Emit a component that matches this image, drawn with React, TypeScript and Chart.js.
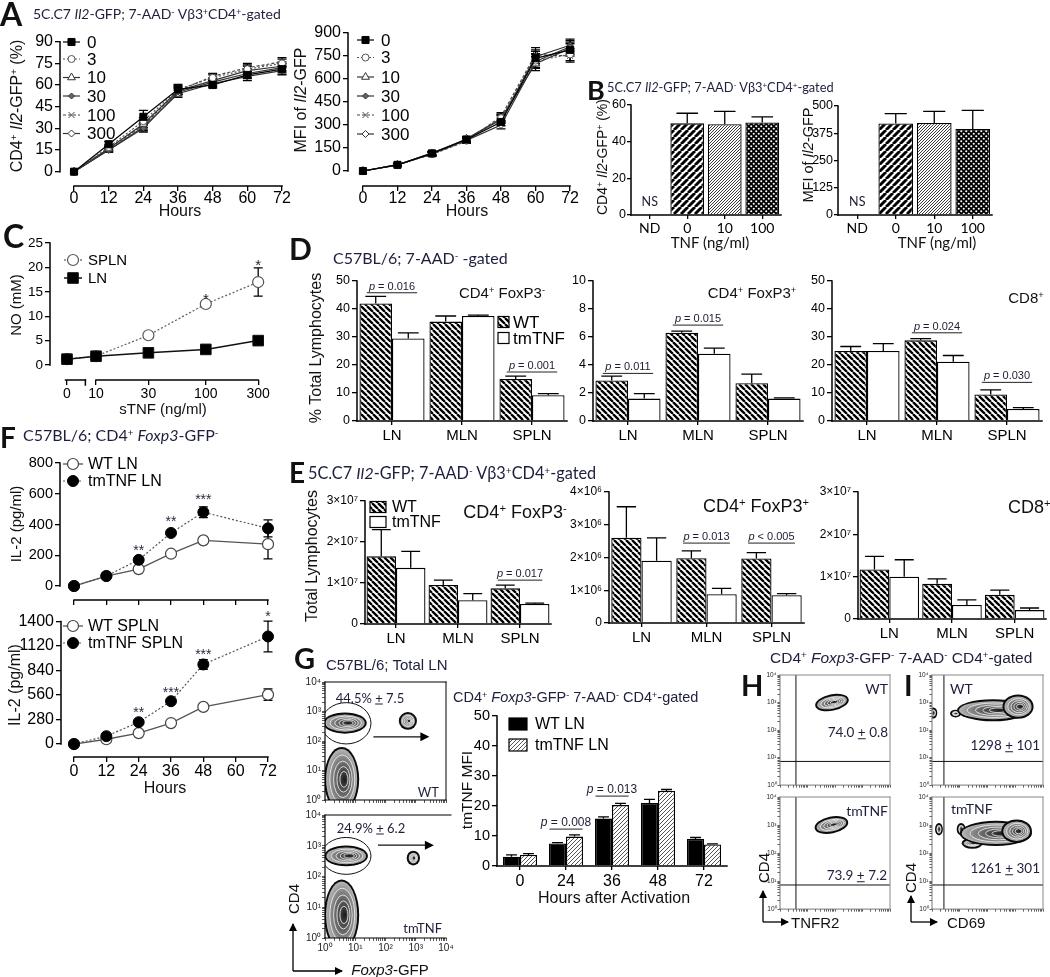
import React, { useEffect, useRef } from 'react';
import { Chart, registerables } from 'chart.js';

Chart.register(...registerables);
const ARIAL = '"Liberation Sans", Arial, Helvetica, sans-serif';
const CALI = 'Lato, "Open Sans", sans-serif';
Chart.defaults.font.family = ARIAL;
Chart.defaults.color = '#000';

/* ====================== DATA ====================== */
// Panel A
const A_HOURS = [0, 12, 24, 36, 48, 60, 72];
const A_HOUR_TICKS = [0, 12, 24, 36, 48, 60, 72];
const A_DOSES = ['0', '3', '10', '30', '100', '300'];
const A_PCT_TICKS = [0, 15, 30, 45, 60, 75, 90];
const A_PCT_0 = [0, 19, 38, 57, 60, 67, 71];
const A_PCT_3 = [0, 17, 35, 57, 65, 71, 75];
const A_PCT_10 = [0, 16, 33, 56, 63, 70, 73];
const A_PCT_30 = [0, 15, 30, 55, 62, 68, 72];
const A_PCT_100 = [0, 16, 32, 56, 66, 72, 76];
const A_PCT_300 = [0, 15, 31, 54, 61, 66, 70];
const A_PCT_ERR_0 = [0, 2, 4.5, 3.5, 2, 2.5, 3.5];
const A_PCT_ERR = [0, 1.5, 2.5, 2.5, 2, 3, 3];
const A_MFI_TICKS = [0, 150, 300, 450, 600, 750, 900];
const A_MFI_0 = [0, 40, 115, 205, 320, 735, 790];
const A_MFI_3 = [0, 42, 110, 198, 345, 720, 760];
const A_MFI_10 = [0, 40, 112, 210, 340, 700, 800];
const A_MFI_30 = [0, 38, 118, 205, 335, 745, 820];
const A_MFI_100 = [0, 42, 108, 195, 355, 760, 750];
const A_MFI_300 = [0, 40, 115, 200, 300, 715, 810];
const A_MFI_ERR = [0, 8, 12, 15, 25, 45, 40];

// Panel B
const B_CATS = ['ND', '0', '10', '100'];
const B_PCT = [null, 50, 49.5, 50.5];
const B_PCT_ERR = [0, 5.5, 7, 3];
const B_PCT_TICKS = [0, 20, 40, 60];
const B_MFI = [null, 420, 422, 395];
const B_MFI_ERR = [0, 45, 53, 85];
const B_MFI_TICKS = [0, 125, 250, 375, 500];

// Panel C
const C_DOSES = [0, 10, 30, 100, 300];
const C_ZERO_POS = 5.44; // where the "0" dose sits on the broken log axis
const C_LN = [1.2, 1.8, 2.5, 3.2, 5.0];
const C_LN_ERR = [0.2, 0.2, 0.3, 0.3, 0.5];
const C_SPLN = [1.2, 1.8, 6.1, 12.5, 17.0];
const C_SPLN_ERR = [0.2, 0.2, 0.3, 0.6, 2.9];
const C_Y_TICKS = [0, 5, 10, 15, 20, 25];
const C_STARS = [{ x: 100, y: 13.9, t: '*' }, { x: 300, y: 20.9, t: '*' }];

// Panel D
const D_CATS = ['LN', 'MLN', 'SPLN'];
const D1_WT = [42, 35.5, 15];
const D1_WT_ERR = [2.5, 2, 1];
const D1_TM = [29.5, 37.5, 9.2];
const D1_TM_ERR = [2, 0.3, 0.6];
const D2_WT = [2.9, 6.3, 2.7];
const D2_WT_ERR = [0.3, 0.12, 0.65];
const D2_TM = [1.6, 4.8, 1.6];
const D2_TM_ERR = [0.35, 0.4, 0.05];
const D3_WT = [25, 28.8, 9.5];
const D3_WT_ERR = [1.6, 0.6, 1.6];
const D3_TM = [25, 21.2, 4.3];
const D3_TM_ERR = [2.6, 2.2, 0.5];
const D_TICKS_50 = [0, 10, 20, 30, 40, 50];
const D_TICKS_10 = [0, 2, 4, 6, 8, 10];
const D1_P = [{ i: 0, y: 45.8, t: '0.016' }, { i: 2, y: 17.5, t: '0.001' }];
const D2_P = [{ i: 0, y: 3.4, t: '0.011' }, { i: 1, y: 6.85, t: '0.015' }];
const D3_P = [{ i: 1, y: 31.5, t: '0.024' }, { i: 2, y: 13.8, t: '0.030' }];

// Panel E
const E1_WT = [1.65e7, 0.95e7, 0.87e7];
const E1_WT_ERR = [0.65e7, 0.12e7, 0.08e7];
const E1_TM = [1.37e7, 0.58e7, 0.49e7];
const E1_TM_ERR = [0.4e7, 0.16e7, 0.02e7];
const E2_WT = [2.6e6, 1.98e6, 1.97e6];
const E2_WT_ERR = [0.95e6, 0.22e6, 0.18e6];
const E2_TM = [1.9e6, 0.88e6, 0.85e6];
const E2_TM_ERR = [0.7e6, 0.18e6, 0.05e6];
const E3_WT = [1.17e7, 0.83e7, 0.57e7];
const E3_WT_ERR = [0.31e7, 0.12e7, 0.11e7];
const E3_TM = [1.0e7, 0.33e7, 0.21e7];
const E3_TM_ERR = [0.4e7, 0.12e7, 0.05e7];
const E_TICKS_3E7 = [0, 1e7, 2e7, 3e7];
const E_TICKS_4E6 = [0, 1e6, 2e6, 3e6, 4e6];
const E1_P = [{ i: 2, y: 1.07e7, t: '0.017' }];
const E2_P = [{ i: 1, y: 2.44e6, t: '0.013' }, { i: 2, y: 2.44e6, t: '0.005', op: '<' }];

// Panel F
const F_HOURS = [0, 12, 24, 36, 48, 72];
const F_HOUR_TICKS = [0, 12, 24, 36, 48, 60, 72];
const F_LN_WT = [0, 65, 110, 210, 297, 272];
const F_LN_WT_ERR = [0, 6, 8, 10, 10, 95];
const F_LN_TM = [0, 65, 170, 345, 480, 375];
const F_LN_TM_ERR = [0, 8, 12, 12, 35, 55];
const F_SP_WT = [0, 55, 125, 240, 425, 565];
const F_SP_WT_ERR = [0, 6, 8, 10, 15, 65];
const F_SP_TM = [0, 90, 250, 490, 910, 1230];
const F_SP_TM_ERR = [0, 10, 15, 20, 55, 175];
const F_LN_TICKS = [0, 200, 400, 600, 800];
const F_SP_TICKS = [0, 280, 560, 840, 1120, 1400];
const F_LN_STARS = [{ x: 24, y: 247, t: '**' }, { x: 36, y: 435, t: '**' }, { x: 48, y: 578, t: '***' }];
const F_SP_STARS = [{ x: 24, y: 387, t: '**' }, { x: 36, y: 615, t: '***' }, { x: 48, y: 1047, t: '***' }, { x: 72, y: 1480, t: '*' }];

// Panel G (bars)
const G_CATS = ['0', '24', '36', '48', '72'];
const G_WT = [3.1, 7.5, 15.8, 21, 9];
const G_WT_ERR = [0.6, 0.3, 0.6, 1.2, 0.5];
const G_TM = [3.7, 9.8, 20.3, 25, 7.2];
const G_TM_ERR = [0.4, 0.6, 0.6, 0.5, 0.2];
const G_TICKS = [0, 10, 20, 30, 40, 50];
const G_P = [{ i: 1, y: 12.3, t: '0.008' }, { i: 2, y: 23.3, t: '0.013' }];

// Flow plots (populations in log10 decades)
const FLOW_TICKS = [1, 2, 3, 4, 5, 6, 7, 8, 9, 10, 20, 30, 40, 50, 60, 70, 80, 90, 100, 200, 300, 400, 500, 600, 700, 800, 900, 1000, 2000, 3000, 4000, 5000, 6000, 7000, 8000, 9000, 10000];
const G_WT_POPS = [
  { lx: 0.55, ly: 0.7, rx: 0.58, ry: 1.1 },
  { lx: 0.66, ly: 2.61, rx: 0.72, ry: 0.36 },
  { lx: 2.74, ly: 2.68, rx: 0.3, ry: 0.3 },
];
const G_WT_GATE = [{ lx: 0.7, ly: 2.6, rx: 0.82, ry: 0.7 }];
const G_WT_ARROW = [{ x1: 1.6, y1: 2.14, x2: 3.45, y2: 2.14 }];
const G_TM_POPS = [
  { lx: 0.55, ly: 0.75, rx: 0.58, ry: 1.15 },
  { lx: 0.7, ly: 2.67, rx: 0.72, ry: 0.34 },
  { lx: 2.92, ly: 2.6, rx: 0.22, ry: 0.24 },
];
const G_TM_GATE = [{ lx: 0.7, ly: 2.67, rx: 0.82, ry: 0.6 }];
const G_TM_ARROW = [{ x1: 1.75, y1: 3.02, x2: 3.6, y2: 3.02 }];
const H_WT_POPS = [{ lx: 1.89, ly: 3.0, rx: 0.62, ry: 0.3, rot: -0.2 }];
const H_TM_POPS = [{ lx: 1.87, ly: 3.0, rx: 0.62, ry: 0.3, rot: -0.2 }];
const H_GATE = { vx: 0.58, hy: 0.86 };
const I_WT_POPS = [
  { lx: 0.05, ly: 2.62, rx: 0.14, ry: 0.2 },
  { lx: 0.85, ly: 2.6, rx: 0.2, ry: 0.14 },
  { lx: 2.2, ly: 2.72, rx: 1.3, ry: 0.4 },
  { lx: 3.1, ly: 2.85, rx: 0.56, ry: 0.44 },
];
const I_TM_POPS = [
  { lx: 0.25, ly: 2.85, rx: 0.14, ry: 0.22 },
  { lx: 1.05, ly: 2.85, rx: 0.16, ry: 0.22 },
  { lx: 1.45, ly: 2.35, rx: 0.38, ry: 0.2 },
  { lx: 2.3, ly: 2.7, rx: 1.3, ry: 0.45 },
  { lx: 3.05, ly: 2.78, rx: 0.55, ry: 0.42 },
];
const I_GATE = { vx: 0.43, hy: 0.86 };

/* ====================== HELPERS ====================== */
const SUPS = ['⁰', '¹', '²', '³', '⁴', '⁵', '⁶', '⁷'];

function mkPat(kind: string): any {
  const s = kind === 'bold' ? 7 : kind === 'wt' ? 6 : kind === 'fine' ? 3 : kind === 'check' ? 5 : 4;
  const c = document.createElement('canvas');
  c.width = s; c.height = s;
  const g = c.getContext('2d')!;
  if (kind === 'check') {
    g.fillStyle = '#000'; g.fillRect(0, 0, s, s);
    g.fillStyle = '#fff';
    g.beginPath(); g.arc(1.25, 1.25, 1.05, 0, Math.PI * 2); g.fill();
    g.beginPath(); g.arc(3.75, 3.75, 1.05, 0, Math.PI * 2); g.fill();
    return g.createPattern(c, 'repeat');
  }
  g.fillStyle = '#fff'; g.fillRect(0, 0, s, s);
  const lw: any = { wt: 2.3, bold: 2.9, fine: 0.9, gray: 1.0 };
  g.strokeStyle = kind === 'fine' ? '#222' : kind === 'gray' ? '#555' : '#000';
  g.lineWidth = lw[kind];
  g.beginPath();
  for (let k = -1; k <= 1; k++) {
    if (kind === 'wt') { g.moveTo(k * s, 0); g.lineTo(k * s + s, s); }
    else { g.moveTo(k * s, s); g.lineTo(k * s + s, 0); }
  }
  g.stroke();
  return g.createPattern(c, 'repeat');
}

function marker(ctx: any, style: string, x: number, y: number, r: number, bg: any, bc: any, bw: number) {
  ctx.save();
  ctx.fillStyle = bg; ctx.strokeStyle = bc; ctx.lineWidth = bw; ctx.setLineDash([]);
  ctx.beginPath();
  if (style === 'rect') { const s = r * Math.SQRT1_2; ctx.rect(x - s, y - s, 2 * s, 2 * s); }
  else if (style === 'rectRot') { ctx.moveTo(x, y - r); ctx.lineTo(x + r, y); ctx.lineTo(x, y + r); ctx.lineTo(x - r, y); ctx.closePath(); }
  else if (style === 'triangle') { ctx.moveTo(x, y - r); ctx.lineTo(x + r * 0.866, y + r * 0.5); ctx.lineTo(x - r * 0.866, y + r * 0.5); ctx.closePath(); }
  else if (style === 'crossRot') {
    const s = r * 0.75;
    ctx.moveTo(x - s, y - s); ctx.lineTo(x + s, y + s); ctx.moveTo(x + s, y - s); ctx.lineTo(x - s, y + s);
    ctx.stroke(); ctx.restore(); return;
  } else ctx.arc(x, y, r, 0, Math.PI * 2);
  ctx.fill();
  if (bw > 0) ctx.stroke();
  ctx.restore();
}

function drawErr(chart: any) {
  const ctx = chart.ctx, ys = chart.scales.y;
  chart.data.datasets.forEach((ds: any, di: number) => {
    if (!ds.errUp) return;
    const meta = chart.getDatasetMeta(di);
    ctx.save(); ctx.strokeStyle = ds.errColor || '#000'; ctx.lineWidth = 1.3; ctx.setLineDash([]);
    meta.data.forEach((el: any, i: number) => {
      const raw = ds.data[i];
      const v = raw !== null && typeof raw === 'object' ? raw.y : raw;
      const e = ds.errUp[i];
      if (v == null || !e) return;
      const x = el.x;
      const top = ys.getPixelForValue(v + e);
      const bot = ds.errBoth ? ys.getPixelForValue(v - e) : el.y;
      const cap = meta.type === 'bar' ? el.width * 0.32 : 4.5;
      ctx.beginPath();
      ctx.moveTo(x, top); ctx.lineTo(x, bot);
      ctx.moveTo(x - cap, top); ctx.lineTo(x + cap, top);
      if (ds.errBoth) { ctx.moveTo(x - cap, bot); ctx.lineTo(x + cap, bot); }
      ctx.stroke();
    });
    ctx.restore();
  });
}

function drawAxes(chart: any, ax: any) {
  const { ctx, chartArea: ca } = chart;
  const xs = chart.scales.x, ys = chart.scales.y;
  ctx.save();
  ctx.strokeStyle = ax.color || '#000'; ctx.lineWidth = ax.lw || 1.5; ctx.lineCap = 'square'; ctx.setLineDash([]);
  const L = (a: number, b: number, c: number, d: number) => { ctx.beginPath(); ctx.moveTo(a, b); ctx.lineTo(c, d); ctx.stroke(); };
  const ya = ax.y ? ys.getPixelForValue(ax.y[0]) : ca.bottom;
  const yb = ax.y ? ys.getPixelForValue(ax.y[1]) : ca.top;
  L(ca.left, ya, ca.left, yb);
  const segs = ax.x || [null];
  for (const s of segs) {
    const a = s ? xs.getPixelForValue(s[0]) : ca.left;
    const b = s ? xs.getPixelForValue(s[1]) : ca.right;
    L(a, ca.bottom, b, ca.bottom);
  }
  for (const v of ax.xTicks || []) { const p = xs.getPixelForValue(v); L(p, ca.bottom, p, ca.bottom + 5); }
  if (ax.frame) {
    ctx.strokeStyle = ax.frameColor || '#000'; ctx.lineWidth = ax.frameLw || 1;
    L(ca.left, ca.top, ca.right + (ax.topExt || 0), ca.top);
    if (ax.frame === 'box') L(ca.right, ca.top, ca.right, ca.bottom);
  }
  ctx.restore();
}

function drawP(chart: any, p: any, size: number) {
  const ctx = chart.ctx, xs = chart.scales.x, ys = chart.scales.y;
  const n = xs.getLabels().length;
  const band = (xs.right - xs.left) / n;
  const cx = xs.getPixelForValue(p.i), py = ys.getPixelForValue(p.y);
  const half = band * 0.36;
  ctx.save();
  ctx.strokeStyle = '#222'; ctx.lineWidth = 1; ctx.setLineDash([]);
  ctx.beginPath(); ctx.moveTo(cx - half, py); ctx.lineTo(cx + half, py); ctx.stroke();
  ctx.fillStyle = '#1c1c30'; ctx.textBaseline = 'alphabetic'; ctx.textAlign = 'left';
  const itF = `italic ${size}px ${ARIAL}`, rF = `${size}px ${ARIAL}`;
  ctx.font = itF; const w1 = ctx.measureText('p').width;
  const rest = ' ' + (p.op || '=') + ' ' + p.t;
  ctx.font = rF; const w2 = ctx.measureText(rest).width;
  const x0 = cx - (w1 + w2) / 2;
  ctx.font = itF; ctx.fillText('p', x0, py - 3);
  ctx.font = rF; ctx.fillText(rest, x0 + w1, py - 3);
  ctx.restore();
}

function blob(ctx: any, cx: number, cy: number, rx: number, ry: number, rot: number) {
  ctx.save(); ctx.translate(cx, cy); ctx.rotate(rot);
  ctx.fillStyle = '#0b0b0b';
  ctx.beginPath(); ctx.ellipse(0, 0, rx, ry, 0, 0, Math.PI * 2); ctx.fill();
  const ix = Math.max(rx - 2, rx * 0.6), iy = Math.max(ry - 2, ry * 0.6);
  ctx.save(); ctx.scale(ix, iy);
  const g = ctx.createRadialGradient(0.2, 0, 0, 0, 0, 1);
  g.addColorStop(0, '#1a1a1a'); g.addColorStop(0.3, '#4a4a4a'); g.addColorStop(0.75, '#8c8c8c'); g.addColorStop(1, '#b8b8b8');
  ctx.fillStyle = g; ctx.beginPath(); ctx.arc(0, 0, 1, 0, Math.PI * 2); ctx.fill();
  ctx.restore();
  ctx.strokeStyle = 'rgba(245,245,245,0.9)'; ctx.lineWidth = 0.9;
  for (const k of [0.8, 0.6, 0.42, 0.26]) {
    if (ix * k < 1.6 || iy * k < 1.3) continue;
    ctx.beginPath(); ctx.ellipse(0.2 * ix * (1 - k), 0, ix * k, iy * k, 0, 0, Math.PI * 2); ctx.stroke();
  }
  ctx.restore();
}

function drawFlow(chart: any, f: any) {
  const { ctx, chartArea: ca } = chart;
  const xs = chart.scales.x, ys = chart.scales.y;
  const X = (l: number) => xs.getPixelForValue(Math.pow(10, l));
  const Y = (l: number) => ys.getPixelForValue(Math.pow(10, l));
  ctx.save();
  ctx.beginPath(); ctx.rect(ca.left, ca.top, ca.right - ca.left, ca.bottom - ca.top); ctx.clip();
  for (const p of f.pops || []) {
    const cx = X(p.lx), cy = Y(p.ly);
    blob(ctx, cx, cy, Math.abs(X(p.lx + p.rx) - cx), Math.abs(Y(p.ly + p.ry) - cy), p.rot || 0);
  }
  ctx.strokeStyle = '#111'; ctx.lineWidth = 1;
  for (const g of f.gates || []) {
    const cx = X(g.lx), cy = Y(g.ly);
    ctx.beginPath(); ctx.ellipse(cx, cy, Math.abs(X(g.lx + g.rx) - cx), Math.abs(Y(g.ly + g.ry) - cy), 0, 0, Math.PI * 2); ctx.stroke();
  }
  if (f.quad) {
    const vx = X(f.quad.vx), hy = Y(f.quad.hy);
    ctx.beginPath(); ctx.moveTo(vx, ca.top); ctx.lineTo(vx, ca.bottom); ctx.moveTo(ca.left, hy); ctx.lineTo(ca.right, hy); ctx.stroke();
  }
  for (const a of f.arrows || []) {
    const x1 = X(a.x1), y1 = Y(a.y1), x2 = X(a.x2), y2 = Y(a.y2);
    ctx.lineWidth = 1.2;
    ctx.beginPath(); ctx.moveTo(x1, y1); ctx.lineTo(x2 - 6, y2); ctx.stroke();
    ctx.fillStyle = '#000';
    ctx.beginPath(); ctx.moveTo(x2, y2); ctx.lineTo(x2 - 9, y2 - 4.5); ctx.lineTo(x2 - 9, y2 + 4.5); ctx.closePath(); ctx.fill();
  }
  ctx.restore();
}

function drawNotes(chart: any, spec: any) {
  const ctx = chart.ctx, xs = chart.scales.x, ys = chart.scales.y;
  for (const t of spec.texts || []) {
    ctx.save();
    ctx.font = t.font; ctx.fillStyle = t.color || '#1c1c30'; ctx.textAlign = 'center'; ctx.textBaseline = 'middle';
    ctx.fillText(t.t, xs.getPixelForValue(t.x) + (t.dx || 0), ys.getPixelForValue(t.y) + (t.dy || 0));
    ctx.restore();
  }
  for (const p of spec.pvals || []) drawP(chart, p, spec.pSize || 11);
}

function drawLegend(chart: any, spec: any) {
  if (!spec.legend) return;
  const ctx = chart.ctx;
  for (const it of spec.legend) {
    const x = it.x - spec.box.x, y = it.y - spec.box.y;
    const ds = chart.data.datasets[it.ds];
    ctx.save();
    if (it.kind === 'line') {
      ctx.strokeStyle = ds.borderColor; ctx.lineWidth = ds.borderWidth; ctx.setLineDash(ds.borderDash || []);
      ctx.beginPath(); ctx.moveTo(x, y); ctx.lineTo(x + it.len, y); ctx.stroke();
      marker(ctx, ds.pointStyle, x + it.len / 2, y, ds.pointRadius, ds.pointBackgroundColor, ds.pointBorderColor, ds.pointBorderWidth);
    } else {
      ctx.fillStyle = Array.isArray(ds.backgroundColor) ? ds.backgroundColor[1] : ds.backgroundColor;
      ctx.fillRect(x, y - it.h / 2, it.w, it.h);
      ctx.strokeStyle = '#000'; ctx.lineWidth = 1.2; ctx.strokeRect(x, y - it.h / 2, it.w, it.h);
    }
    ctx.fillStyle = '#000'; ctx.font = spec.legendFont; ctx.textAlign = 'left'; ctx.textBaseline = 'middle';
    ctx.fillText(it.label ?? ds.label, x + it.tx, y + 1);
    ctx.restore();
  }
}

let PID = 0;
function decor(spec: any) {
  return {
    id: 'decor' + PID++,
    beforeDatasetsDraw(chart: any) { if (spec.errFirst) drawErr(chart); },
    afterDatasetsDraw(chart: any) {
      if (spec.flow) drawFlow(chart, spec.flow);
      if (!spec.errFirst) drawErr(chart);
      drawAxes(chart, spec.axes || {});
      drawNotes(chart, spec);
      drawLegend(chart, spec);
    },
  };
}

function linAx(min: number, max: number, ticks: number[], fs: number, o: any = {}) {
  return {
    type: o.type || 'linear', min, max,
    border: { display: false },
    grid: { display: true, drawOnChartArea: false, drawTicks: true, tickLength: o.tl ?? 5, color: o.gc || '#000', lineWidth: o.glw ?? 1.3 },
    ticks: {
      display: o.show !== false, font: { size: fs, family: o.ff || ARIAL }, color: '#000', padding: o.pad ?? 2,
      autoSkip: false, maxRotation: 0, callback: o.cb || ((v: any) => String(v)),
    },
    afterBuildTicks: (s: any) => { s.ticks = ticks.map((v) => ({ value: v })); },
  };
}
function catAx(fs: number, o: any = {}) {
  return {
    type: 'category', offset: true, border: { display: false },
    grid: { display: true, drawOnChartArea: false, drawTicks: true, tickLength: o.tl ?? 4, color: '#000', lineWidth: 1.3, offset: false },
    ticks: { font: { size: fs, family: o.ff || ARIAL }, color: '#000', padding: o.pad ?? 2, autoSkip: false, maxRotation: 0 },
  };
}
function flowLabel(v: any) {
  const l = Math.log10(v);
  return Math.abs(l - Math.round(l)) < 1e-9 ? '10' + SUPS[Math.round(l)] : '';
}
function logAx(show: boolean, fs: number, tl: number) {
  return {
    type: 'logarithmic', min: 1, max: 10000, border: { display: false },
    grid: { display: true, drawOnChartArea: false, drawTicks: true, tickLength: tl, color: '#333', lineWidth: 0.8 },
    ticks: { display: show, font: { size: fs, family: ARIAL }, color: '#222', padding: 1, autoSkip: false, maxRotation: 0, callback: flowLabel },
    afterBuildTicks: (s: any) => { s.ticks = FLOW_TICKS.map((v) => ({ value: v })); },
  };
}

function lineDS(label: string, xs: number[], ys: number[], err: number[], st: any) {
  return {
    label, data: xs.map((x, i) => ({ x, y: ys[i] })), showLine: true, tension: 0, clip: false,
    borderColor: st.c, borderWidth: st.lw ?? 1.2, borderDash: st.dash || [],
    pointStyle: st.ps, pointRadius: st.r, pointBackgroundColor: st.bg, pointBorderColor: st.pc ?? st.c, pointBorderWidth: st.pbw ?? 1,
    errUp: err, errBoth: true,
  };
}
function barDS(label: string, data: any[], err: number[], bg: any, cp: number) {
  return { label, data, errUp: err, backgroundColor: bg, borderColor: '#000', borderWidth: 1.3, categoryPercentage: cp, barPercentage: 1 };
}

function fitLayout(cfg: any, box: any, area: any) {
  const o = cfg.options;
  o.responsive = false; o.animation = false; o.devicePixelRatio = 1; o.events = [];
  o.layout = { padding: { left: 0, top: area.t - box.y, right: box.x + box.w - area.r, bottom: 0 } };
  o.scales.x.afterFit = (s: any) => { s.height = box.y + box.h - area.b; };
  o.scales.y.afterFit = (s: any) => { s.width = area.l - box.x; };
  o.plugins = { legend: { display: false }, tooltip: { enabled: false }, title: { display: false } };
  return cfg;
}

const A_STYLES = [
  { c: '#000', ps: 'rect', r: 5, bg: '#000' },
  { c: '#555', dash: [2, 2], ps: 'circle', r: 3.5, bg: '#fff' },
  { c: '#333', ps: 'triangle', r: 4.5, bg: '#fff' },
  { c: '#333', ps: 'rectRot', r: 3, bg: '#666' },
  { c: '#444', dash: [3, 2], ps: 'crossRot', r: 4, bg: '#fff' },
  { c: '#333', ps: 'rectRot', r: 3.5, bg: '#fff' },
];

/* ====================== CHART SPECS ====================== */
function buildA(which: 'pct' | 'mfi') {
  const series = which === 'pct' ? [A_PCT_0, A_PCT_3, A_PCT_10, A_PCT_30, A_PCT_100, A_PCT_300] : [A_MFI_0, A_MFI_3, A_MFI_10, A_MFI_30, A_MFI_100, A_MFI_300];
  const errs = which === 'pct' ? [A_PCT_ERR_0, A_PCT_ERR, A_PCT_ERR, A_PCT_ERR, A_PCT_ERR, A_PCT_ERR] : [A_MFI_ERR, A_MFI_ERR, A_MFI_ERR, A_MFI_ERR, A_MFI_ERR, A_MFI_ERR];
  const box = which === 'pct' ? { x: 0, y: 25, w: 295, h: 195 } : { x: 280, y: 20, w: 305, h: 200 };
  const lx = which === 'pct' ? 63 : 357;
  const rows = which === 'pct' ? [42, 59, 77.5, 96, 115, 133.5] : [40, 57.5, 77, 96, 115, 134];
  return {
    type: 'scatter',
    data: { datasets: series.map((s, i) => lineDS(A_DOSES[i], A_HOURS, s, errs[i], A_STYLES[i])) },
    options: {
      scales: {
        x: linAx(which === 'pct' ? -4.85 : -5.2, 74, A_HOUR_TICKS, 16, { pad: -2 }),
        y: which === 'pct' ? linAx(-9.9, 90, A_PCT_TICKS, 16) : linAx(-97.8, 900, A_MFI_TICKS, 16),
      },
    },
    plugins: [decor({
      box, errFirst: true,
      axes: { x: [[0, 72]], y: which === 'pct' ? [0, 90] : [0, 900] },
      legendFont: `17px ${ARIAL}`,
      legend: A_DOSES.map((d, i) => ({ kind: 'line', ds: i, x: lx, y: rows[i], len: 17, tx: 24, label: d })),
    })],
  };
}

function buildB(which: 'pct' | 'mfi') {
  const box = which === 'pct' ? { x: 590, y: 95, w: 200, h: 155 } : { x: 795, y: 95, w: 205, h: 155 };
  const bg = ['#fff', mkPat('bold'), mkPat('fine'), mkPat('check')];
  return {
    type: 'bar',
    data: { labels: B_CATS, datasets: [barDS('TNF', which === 'pct' ? B_PCT : B_MFI, which === 'pct' ? B_PCT_ERR : B_MFI_ERR, bg, 0.9)] },
    options: {
      scales: {
        x: catAx(14, { ff: CALI, pad: 1 }),
        y: which === 'pct' ? linAx(0, 60, B_PCT_TICKS, 12.5, { tl: 4, pad: 1 }) : linAx(0, 500, B_MFI_TICKS, 12.5, { tl: 4, pad: 1 }),
      },
    },
    plugins: [decor({
      box, axes: {},
      texts: [{ x: 0, y: which === 'pct' ? 7 : 60, t: 'NS', font: `12.5px ${CALI}` }],
    })],
  };
}

function buildC() {
  const pos = (d: number) => (d === 0 ? C_ZERO_POS : d);
  const box = { x: 0, y: 230, w: 275, h: 175 };
  const ln = lineDS('LN', C_DOSES.map(pos), C_LN, C_LN_ERR, { c: '#111', lw: 1.5, ps: 'rect', r: 7.5, bg: '#000' });
  const sp = lineDS('SPLN', C_DOSES.map(pos), C_SPLN, C_SPLN_ERR, { c: '#666', lw: 1.3, dash: [2, 2], ps: 'circle', r: 5.5, bg: '#fff', pc: '#555', pbw: 1.2 });
  return {
    type: 'scatter',
    data: { datasets: [ln, sp] },
    options: {
      scales: {
        x: linAx(3.81, 325, C_DOSES.map(pos), 14, { type: 'logarithmic', pad: 1, cb: (v: any) => String(v === C_ZERO_POS ? 0 : v) }),
        y: linAx(-3.07, 25, C_Y_TICKS, 13.5),
      },
    },
    plugins: [decor({
      box, errFirst: true,
      axes: { x: [[C_ZERO_POS * 0.97, 8.0], [10, 300]], xTicks: [8.0], y: [0, 25] },
      texts: C_STARS.map((s) => ({ ...s, font: `15px ${ARIAL}`, dy: 3 })),
      legendFont: `15px ${ARIAL}`,
      legend: [
        { kind: 'line', ds: 1, x: 64, y: 260, len: 18, tx: 24 },
        { kind: 'line', ds: 0, x: 64, y: 278, len: 18, tx: 24 },
      ],
    })],
  };
}

function buildBars(box: any, cats: string[], wt: number[], wtE: number[], tm: number[], tmE: number[], y: any, cp: number, fsX: number, extra: any) {
  return {
    type: 'bar',
    data: { labels: cats, datasets: [barDS('WT', wt, wtE, extra.wtBg || mkPat('wt'), cp), barDS(extra.tmLabel || 'tmTNF', tm, tmE, extra.tmBg || '#fff', cp)] },
    options: { scales: { x: catAx(fsX), y } },
    plugins: [decor({ box, axes: {}, ...extra.decor })],
  };
}

function buildF(which: 'ln' | 'sp') {
  const ln = which === 'ln';
  const box = ln ? { x: 0, y: 450, w: 285, h: 162 } : { x: 0, y: 610, w: 285, h: 170 };
  const tm = lineDS(ln ? 'tmTNF LN' : 'tmTNF SPLN', F_HOURS, ln ? F_LN_TM : F_SP_TM, ln ? F_LN_TM_ERR : F_SP_TM_ERR, { c: '#555', lw: 1.2, dash: [2, 2], ps: 'circle', r: 5.5, bg: '#000', pc: '#000' });
  const wt = lineDS(ln ? 'WT LN' : 'WT SPLN', F_HOURS, ln ? F_LN_WT : F_SP_WT, ln ? F_LN_WT_ERR : F_SP_WT_ERR, { c: '#555', lw: 1.3, ps: 'circle', r: 5.5, bg: '#fff', pc: '#444', pbw: 1.2 });
  const ly = ln ? [464, 481] : [626, 643];
  return {
    type: 'scatter',
    data: { datasets: [tm, wt] },
    options: {
      scales: {
        x: linAx(ln ? -5.2 : -4.83, 74, F_HOUR_TICKS, 16, { show: !ln, pad: 0 }),
        y: ln ? linAx(-91, 800, F_LN_TICKS, 14.5) : linAx(-148, 1400, F_SP_TICKS, 16),
      },
    },
    plugins: [decor({
      box, errFirst: true,
      axes: { x: [[0, 72]], y: ln ? [0, 800] : [0, 1400] },
      texts: (ln ? F_LN_STARS : F_SP_STARS).map((s) => ({ ...s, font: `14px ${ARIAL}`, dy: 3, color: '#2a2a40' })),
      legendFont: `16px ${ARIAL}`,
      legend: [
        { kind: 'line', ds: 1, x: 63, y: ly[0], len: 20, tx: 25 },
        { kind: 'line', ds: 0, x: 63, y: ly[1], len: 20, tx: 25 },
      ],
    })],
  };
}

function buildFlow(box: any, showX: boolean, fs: number, tl: number, flow: any, axes: any) {
  return {
    type: 'scatter',
    data: { datasets: [{ data: [] }] },
    options: { scales: { x: logAx(showX, fs, tl), y: logAx(true, fs, tl) } },
    plugins: [decor({ box, flow, axes })],
  };
}

const e7 = (v: any) => (v === 0 ? '0' : `${v / 1e7}×10⁷`);
const e6 = (v: any) => (v === 0 ? '0' : `${v / 1e6}×10⁶`);

const CHARTS: any[] = [
  { box: { x: 0, y: 25, w: 295, h: 195 }, area: { l: 60, t: 41.7, r: 287.8, b: 186 }, build: () => buildA('pct') },
  { box: { x: 280, y: 20, w: 305, h: 200 }, area: { l: 348, t: 33, r: 575.8, b: 186 }, build: () => buildA('mfi') },
  { box: { x: 590, y: 95, w: 200, h: 155 }, area: { l: 631, t: 105, r: 781, b: 215 }, build: () => buildB('pct') },
  { box: { x: 795, y: 95, w: 205, h: 155 }, area: { l: 838, t: 106, r: 992, b: 215 }, build: () => buildB('mfi') },
  { box: { x: 0, y: 230, w: 275, h: 175 }, area: { l: 50, t: 243, r: 262, b: 380 }, build: buildC },
  {
    box: { x: 325, y: 270, w: 245, h: 180 }, area: { l: 357, t: 281, r: 567, b: 421 },
    build: () => buildBars({ x: 325, y: 270, w: 245, h: 180 }, D_CATS, D1_WT, D1_WT_ERR, D1_TM, D1_TM_ERR, linAx(0, 50, D_TICKS_50, 12.5), 0.93, 15, {
      decor: {
        pvals: D1_P, pSize: 11, legendFont: `17px ${ARIAL}`,
        legend: [{ kind: 'sw', ds: 0, x: 498, y: 322, w: 11, h: 11, tx: 15 }, { kind: 'sw', ds: 1, x: 498, y: 338, w: 11, h: 11, tx: 15 }],
      },
    }),
  },
  {
    box: { x: 565, y: 270, w: 241, h: 180 }, area: { l: 593, t: 281, r: 803, b: 421 },
    build: () => buildBars({ x: 565, y: 270, w: 241, h: 180 }, D_CATS, D2_WT, D2_WT_ERR, D2_TM, D2_TM_ERR, linAx(0, 10, D_TICKS_10, 12.5), 0.93, 15, { decor: { pvals: D2_P, pSize: 11 } }),
  },
  {
    box: { x: 805, y: 270, w: 245, h: 180 }, area: { l: 832, t: 281, r: 1042, b: 421 },
    build: () => buildBars({ x: 805, y: 270, w: 245, h: 180 }, D_CATS, D3_WT, D3_WT_ERR, D3_TM, D3_TM_ERR, linAx(0, 50, D_TICKS_50, 12.5), 0.93, 15, { decor: { pvals: D3_P, pSize: 11 } }),
  },
  {
    box: { x: 300, y: 485, w: 260, h: 165 }, area: { l: 365, t: 501, r: 551, b: 624 },
    build: () => buildBars({ x: 300, y: 485, w: 260, h: 165 }, D_CATS, E1_WT, E1_WT_ERR, E1_TM, E1_TM_ERR, linAx(0, 3e7, E_TICKS_3E7, 12, { cb: e7 }), 0.95, 15, {
      decor: {
        pvals: E1_P, pSize: 11, legendFont: `16px ${ARIAL}`,
        legend: [{ kind: 'sw', ds: 0, x: 370, y: 507, w: 16, h: 11, tx: 22 }, { kind: 'sw', ds: 1, x: 370, y: 522, w: 16, h: 11, tx: 22 }],
      },
    }),
  },
  {
    box: { x: 560, y: 480, w: 250, h: 170 }, area: { l: 609, t: 492, r: 804, b: 623 },
    build: () => buildBars({ x: 560, y: 480, w: 250, h: 170 }, D_CATS, E2_WT, E2_WT_ERR, E2_TM, E2_TM_ERR, linAx(0, 4e6, E_TICKS_4E6, 12, { cb: e6 }), 0.93, 15, { decor: { pvals: E2_P, pSize: 11 } }),
  },
  {
    box: { x: 808, y: 480, w: 242, h: 170 }, area: { l: 858, t: 492, r: 1046, b: 619 },
    build: () => buildBars({ x: 808, y: 480, w: 242, h: 170 }, D_CATS, E3_WT, E3_WT_ERR, E3_TM, E3_TM_ERR, linAx(0, 3e7, E_TICKS_3E7, 12, { cb: e7 }), 0.95, 15, { decor: {} }),
  },
  { box: { x: 0, y: 450, w: 285, h: 162 }, area: { l: 60, t: 463, r: 273.4, b: 600 }, build: () => buildF('ln') },
  { box: { x: 0, y: 610, w: 285, h: 170 }, area: { l: 61, t: 621, r: 273.4, b: 757 }, build: () => buildF('sp') },
  {
    box: { x: 455, y: 705, w: 280, h: 205 }, area: { l: 497, t: 716, r: 727, b: 866 },
    build: () => buildBars({ x: 455, y: 705, w: 280, h: 205 }, G_CATS, G_WT, G_WT_ERR, G_TM, G_TM_ERR, linAx(0, 50, G_TICKS, 14.5), 0.74, 16, {
      wtBg: '#000', tmBg: mkPat('gray'), tmLabel: 'tmTNF LN',
      decor: {
        pvals: G_P, pSize: 12, legendFont: `16px ${ARIAL}`,
        legend: [{ kind: 'sw', ds: 0, x: 509, y: 724, w: 18, h: 12, tx: 26, label: 'WT LN' }, { kind: 'sw', ds: 1, x: 509, y: 745, w: 18, h: 12, tx: 26 }],
      },
    }),
  },
  {
    box: { x: 285, y: 673, w: 170, h: 135 }, area: { l: 325, t: 682, r: 446, b: 800 },
    build: () => buildFlow({ x: 285, y: 673, w: 170, h: 135 }, false, 10, 3, { pops: G_WT_POPS, gates: G_WT_GATE, arrows: G_WT_ARROW }, { lw: 1.2, frame: 'box' }),
  },
  {
    box: { x: 285, y: 806, w: 175, h: 160 }, area: { l: 325, t: 815, r: 446, b: 938 },
    build: () => buildFlow({ x: 285, y: 806, w: 175, h: 160 }, true, 10, 3, { pops: G_TM_POPS, gates: G_TM_GATE, arrows: G_TM_ARROW }, { lw: 1.2, frame: 'top', topExt: 5 }),
  },
  {
    box: { x: 760, y: 670, w: 135, h: 120 }, area: { l: 780, t: 675, r: 890, b: 787 },
    build: () => buildFlow({ x: 760, y: 670, w: 135, h: 120 }, false, 6.5, 2.5, { pops: H_WT_POPS, quad: H_GATE }, { lw: 1, color: '#777', frame: 'box', frameColor: '#888' }),
  },
  {
    box: { x: 760, y: 792, w: 135, h: 122 }, area: { l: 780, t: 797, r: 890, b: 910 },
    build: () => buildFlow({ x: 760, y: 792, w: 135, h: 122 }, false, 6.5, 2.5, { pops: H_TM_POPS, quad: H_GATE }, { lw: 1, color: '#777', frame: 'box', frameColor: '#888' }),
  },
  {
    box: { x: 912, y: 670, w: 135, h: 120 }, area: { l: 932, t: 675, r: 1043, b: 787 },
    build: () => buildFlow({ x: 912, y: 670, w: 135, h: 120 }, false, 6.5, 2.5, { pops: I_WT_POPS, quad: I_GATE }, { lw: 1, color: '#777', frame: 'box', frameColor: '#888' }),
  },
  {
    box: { x: 912, y: 792, w: 135, h: 122 }, area: { l: 932, t: 797, r: 1043, b: 910 },
    build: () => buildFlow({ x: 912, y: 792, w: 135, h: 122 }, false, 6.5, 2.5, { pops: I_TM_POPS, quad: I_GATE }, { lw: 1, color: '#777', frame: 'box', frameColor: '#888' }),
  },
];

/* ====================== COMPONENTS ====================== */
function ChartBox({ spec }: any) {
  const ref = useRef<HTMLCanvasElement>(null);
  useEffect(() => {
    const cfg = fitLayout(spec.build(), spec.box, spec.area);
    const chart = new Chart(ref.current as HTMLCanvasElement, cfg);
    return () => chart.destroy();
  }, []);
  const b = spec.box;
  return <canvas ref={ref} width={b.w} height={b.h} style={{ position: 'absolute', left: b.x, top: b.y, width: b.w, height: b.h }} />;
}

function Txt({ x, y, s = 14, f = ARIAL, b = false, a = 'l', rot = false, c = '#111', children }: any) {
  let tr = a === 'c' ? 'translate(-50%,-50%)' : a === 'r' ? 'translate(-100%,-50%)' : 'translate(0,-50%)';
  if (rot) tr = 'translate(-50%,-50%) rotate(-90deg)';
  return (
    <div style={{ position: 'absolute', left: x, top: y, transform: tr, fontSize: s, fontFamily: f, fontWeight: b ? 700 : 400, color: c, whiteSpace: 'nowrap', lineHeight: 1 }}>
      {children}
    </div>
  );
}
const Sp = ({ children }: any) => <span style={{ fontSize: '0.62em', position: 'relative', top: '-0.5em' }}>{children}</span>;
const Pm = () => <span style={{ textDecoration: 'underline' }}>+</span>;

const NAVY = '#1d1f3c';

export default function App() {
  return (
    <div style={{ position: 'absolute', left: 0, top: 0, width: 1050, height: 977, background: '#fff', overflow: 'hidden' }}>
      {CHARTS.map((c, i) => <ChartBox key={i} spec={c} />)}

      <svg width={1050} height={977} style={{ position: 'absolute', left: 0, top: 0 }}>
        <defs>
          <marker id="ah" markerWidth="8" markerHeight="8" refX="7" refY="4" orient="auto" markerUnits="userSpaceOnUse">
            <path d="M0,0 L8,4 L0,8 z" fill="#000" />
          </marker>
        </defs>
        <g stroke="#000" strokeWidth={1.3} fill="none">
          <path d="M293,971 L293,924" markerEnd="url(#ah)" />
          <path d="M293,971 L342,971" markerEnd="url(#ah)" />
          <path d="M763,922 L763,891" markerEnd="url(#ah)" />
          <path d="M763,922 L788,922" markerEnd="url(#ah)" />
          <path d="M911,922 L911,896" markerEnd="url(#ah)" />
          <path d="M911,922 L937,922" markerEnd="url(#ah)" />
        </g>
      </svg>

      {/* panel letters */}
      <Txt x={0} y={14} s={32} b f={CALI}>A</Txt>
      <Txt x={587} y={89} s={27} b f={CALI}>B</Txt>
      <Txt x={3} y={236} s={32} b f={CALI}>C</Txt>
      <Txt x={289} y={248} s={30} b f={CALI}>D</Txt>
      <Txt x={289} y={472} s={28} b f={CALI}>E</Txt>
      <Txt x={0} y={437} s={28} b f={CALI}>F</Txt>
      <Txt x={294} y={657} s={29} b f={CALI}>G</Txt>
      <Txt x={741} y={684} s={29} b f={CALI}>H</Txt>
      <Txt x={904} y={684} s={29} b f={CALI}>I</Txt>

      {/* subtitles */}
      <Txt x={33} y={14} s={14} f={CALI} c={NAVY}>5C.C7 <i>Il2</i>-GFP; 7-AAD<Sp>-</Sp> Vβ3<Sp>+</Sp>CD4<Sp>+</Sp>-gated</Txt>
      <Txt x={607} y={87} s={12.8} f={CALI} c={NAVY}>5C.C7 <i>Il2</i>-GFP; 7-AAD<Sp>-</Sp> Vβ3<Sp>+</Sp>CD4<Sp>+</Sp>-gated</Txt>
      <Txt x={333} y={258} s={16} f={CALI} c={NAVY}>C57BL/6; 7-AAD<Sp>-</Sp> -gated</Txt>
      <Txt x={308} y={473} s={16.3} f={CALI} c={NAVY}>5C.C7 <i>Il2</i>-GFP; 7-AAD<Sp>-</Sp> Vβ3<Sp>+</Sp>CD4<Sp>+</Sp>-gated</Txt>
      <Txt x={23} y={435} s={16} f={CALI} c={NAVY}>C57BL/6; CD4<Sp>+</Sp> <i>Foxp3</i>-GFP<Sp>-</Sp></Txt>
      <Txt x={326} y={664} s={15} c={NAVY}>C57BL/6; Total LN</Txt>
      <Txt x={453} y={697} s={14.5} c={NAVY}>CD4<Sp>+</Sp> <i>Foxp3</i>-GFP<Sp>-</Sp> 7-AAD<Sp>-</Sp> CD4<Sp>+</Sp>-gated</Txt>
      <Txt x={770} y={658} s={15.5} c={NAVY}>CD4<Sp>+</Sp> <i>Foxp3</i>-GFP<Sp>-</Sp> 7-AAD<Sp>-</Sp> CD4<Sp>+</Sp>-gated</Txt>

      {/* axis titles */}
      <Txt x={17} y={106} s={16} rot>CD4<Sp>+</Sp> <i>Il2</i>-GFP<Sp>+</Sp> (%)</Txt>
      <Txt x={180} y={211} s={16} a="c">Hours</Txt>
      <Txt x={301} y={100} s={16} rot>MFI of <i>Il2</i>-GFP</Txt>
      <Txt x={467} y={211} s={16} a="c">Hours</Txt>
      <Txt x={602} y={157} s={14} rot>CD4<Sp>+</Sp> <i>Il2</i>-GFP<Sp>+</Sp> (%)</Txt>
      <Txt x={710} y={242} s={15} f={CALI} a="c">TNF (ng/ml)</Txt>
      <Txt x={808} y={155} s={14.5} rot>MFI of <i>Il2</i>-GFP</Txt>
      <Txt x={937} y={242} s={15} f={CALI} a="c">TNF (ng/ml)</Txt>
      <Txt x={15} y={305} s={15} rot>NO (mM)</Txt>
      <Txt x={163} y={408} s={15} a="c">sTNF (ng/ml)</Txt>
      <Txt x={316} y={348} s={16} rot>% Total Lymphocytes</Txt>
      <Txt x={312} y={556} s={16} rot>Total Lymphocytes</Txt>
      <Txt x={15} y={524} s={15} rot>IL-2 (pg/ml)</Txt>
      <Txt x={15} y={685} s={16} rot>IL-2 (pg/ml)</Txt>
      <Txt x={165} y={788} s={16} a="c">Hours</Txt>
      <Txt x={467} y={790} s={15.5} rot>tmTNF MFI</Txt>
      <Txt x={614} y={898} s={16} a="c">Hours after Activation</Txt>
      <Txt x={293} y={899} s={15} rot>CD4</Txt>
      <Txt x={390} y={969} s={15} a="c"><i>Foxp3</i>-GFP</Txt>
      <Txt x={763} y={868} s={15} rot>CD4</Txt>
      <Txt x={791} y={922} s={15}>TNFR2</Txt>
      <Txt x={910} y={878} s={15} rot>CD4</Txt>
      <Txt x={947} y={922} s={15}>CD69</Txt>

      {/* panel titles */}
      <Txt x={502} y={293} s={15} a="c">CD4<Sp>+</Sp> FoxP3<Sp>-</Sp></Txt>
      <Txt x={752} y={293} s={15} a="c">CD4<Sp>+</Sp> FoxP3<Sp>+</Sp></Txt>
      <Txt x={1026} y={298} s={15} a="c">CD8<Sp>+</Sp></Txt>
      <Txt x={515} y={512} s={18} a="c">CD4<Sp>+</Sp> FoxP3<Sp>-</Sp></Txt>
      <Txt x={756} y={506} s={18} a="c">CD4<Sp>+</Sp> FoxP3<Sp>+</Sp></Txt>
      <Txt x={1008} y={507} s={18}>CD8<Sp>+</Sp></Txt>

      {/* flow texts */}
      <Txt x={370} y={698} s={13} f={CALI} a="c" c={NAVY}>44.5% <Pm /> 7.5</Txt>
      <Txt x={439} y={792} s={13} f={CALI} a="r" c={NAVY}>WT</Txt>
      <Txt x={371} y={828} s={13} f={CALI} a="c" c={NAVY}>24.9% <Pm /> 6.2</Txt>
      <Txt x={442} y={928} s={13} f={CALI} a="r" c={NAVY}>tmTNF</Txt>
      <Txt x={888} y={689} s={14} f={CALI} a="r" c={NAVY}>WT</Txt>
      <Txt x={888} y={733} s={13.5} f={CALI} a="r" c={NAVY}>74.0 <Pm /> 0.8</Txt>
      <Txt x={888} y={811} s={14} f={CALI} a="r" c={NAVY}>tmTNF</Txt>
      <Txt x={887} y={876} s={13.5} f={CALI} a="r" c={NAVY}>73.9 <Pm /> 7.2</Txt>
      <Txt x={950} y={689} s={14} f={CALI} c={NAVY}>WT</Txt>
      <Txt x={1040} y={746} s={13.5} f={CALI} a="r" c={NAVY}>1298 <Pm /> 101</Txt>
      <Txt x={951} y={809} s={14} f={CALI} c={NAVY}>tmTNF</Txt>
      <Txt x={1040} y={869} s={13.5} f={CALI} a="r" c={NAVY}>1261 <Pm /> 301</Txt>
    </div>
  );
}
